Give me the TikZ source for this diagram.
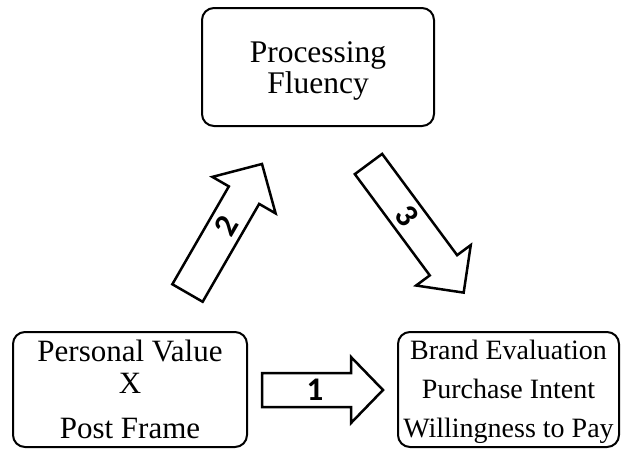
\documentclass[tikz,border=0pt]{standalone}
\usepackage{fontspec}
\setmainfont{Liberation Serif}
\newfontfamily\numfont{Carlito}
\begin{document}
\begin{tikzpicture}[x=1pt,y=-1pt,
  box/.style={draw=black, line width=2pt, rounded corners=12pt, inner sep=0pt},
  blockarrow/.style={draw=black, line width=2.5pt, line join=miter, fill=white},
  lbl/.style={anchor=base, inner sep=0pt, font=\fontsize{31}{31}\selectfont},
  slbl/.style={anchor=base, inner sep=0pt, font=\fontsize{28}{28}\selectfont},
  numlbl/.style={inner sep=0pt, font=\numfont\bfseries\fontsize{33}{33}\selectfont}]
\useasboundingbox (0,0) rectangle (621,448);

% boxes
\node[box, minimum width=232pt, minimum height=118pt] (pf) at (318,67) {};
\node[box, minimum width=234pt, minimum height=115pt] (pv) at (130,389.5) {};
\node[box, minimum width=221pt, minimum height=115pt] (out) at (508.5,389.5) {};

% texts
\node[lbl, font=\fontsize{31.5}{31.5}\selectfont] (pf1) at (318,62) {Processing};
\node[lbl, font=\fontsize{31.5}{31.5}\selectfont] (pf2) at (318,93) {Fluency};
\node[lbl] (pv1) at (130,361) {Personal Value};
\node[lbl] (pv2) at (130,393) {X};
\node[lbl] (pv3) at (130,438) {Post Frame};
\node[slbl] (o1) at (508.5,359) {Brand Evaluation};
\node[slbl] (o2) at (508.5,398.5) {Purchase Intent};
\node[slbl] (o3) at (508.5,437) {Willingness to Pay};

% arrow 1
\begin{scope}[shift={(262,390)}]
\draw[blockarrow] (0,-17) -- (89,-17) -- (89,-33) -- (121,0) -- (89,33) -- (89,17) -- (0,17) -- cycle;
\node[numlbl] (n1) at (53,0) {1};
\end{scope}

% arrow 2
\begin{scope}[shift={(187.5,293)}, rotate=60]
\draw[blockarrow] (0,-17.5) -- (113,-17.5) -- (113,-36.5) -- (149,0) -- (113,36.5) -- (113,17.5) -- (0,17.5) -- cycle;
\node[numlbl, rotate=60] (n2) at (77,0) {2};
\end{scope}

% arrow 3
\begin{scope}[shift={(368.5,164)}, rotate=-53.5]
\draw[blockarrow] (0,-17) -- (126,-17) -- (126,-34) -- (160,0) -- (126,34) -- (126,17) -- (0,17) -- cycle;
\node[numlbl, rotate=-53.5] (n3) at (65,0) {3};
\end{scope}
\end{tikzpicture}
\end{document}
